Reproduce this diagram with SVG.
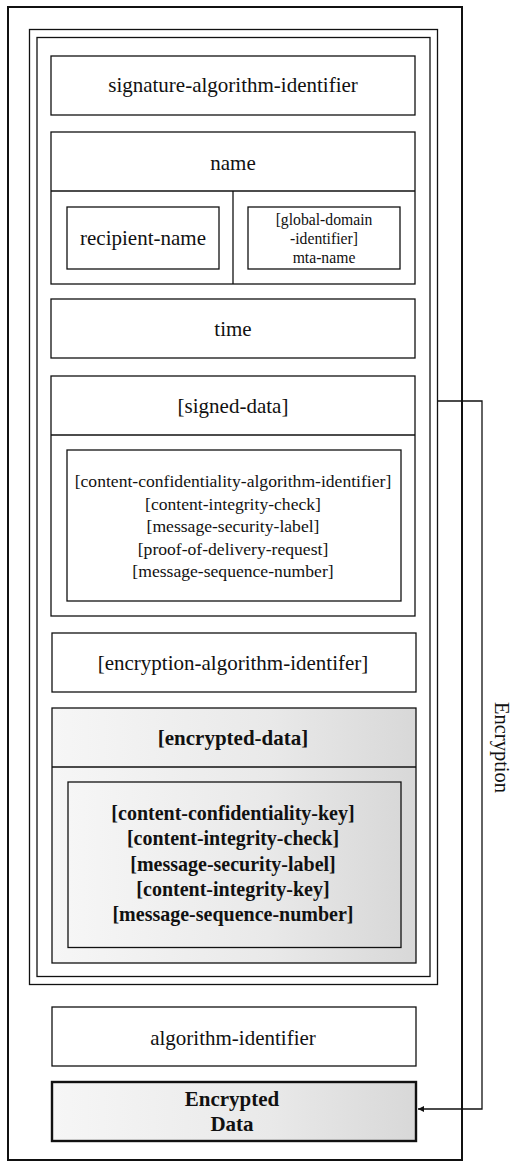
<svg xmlns="http://www.w3.org/2000/svg" width="513" height="1162" viewBox="0 0 513 1162">
<style>
.b{fill:#fff;stroke:#111;stroke-width:1.3}
.s{fill:url(#shade);stroke:#111;stroke-width:1.3}
.l{fill:none;stroke:#111;stroke-width:1.3}
text{font-family:"Liberation Serif","Times New Roman",serif;fill:#111;text-anchor:middle}
.t21{font-size:21px}
.t17{font-size:17.6px}
.t16{font-size:15.7px}
.bd{font-weight:bold}
.bd20{font-size:20px;font-weight:bold}
.rot{font-size:20.5px}
</style>
<defs>
<linearGradient id="shade" x1="0" y1="0" x2="1" y2="0">
<stop offset="0" stop-color="#f6f6f6"/>
<stop offset="0.6" stop-color="#e9e9e9"/>
<stop offset="1" stop-color="#d8d8d8"/>
</linearGradient>
<marker id="arr" viewBox="0 0 10 10" refX="10" refY="5" markerWidth="8" markerHeight="6" orient="auto" markerUnits="userSpaceOnUse">
<path d="M0,0 L10,5 L0,10 z" fill="#111"/>
</marker>
</defs>
<rect width="513" height="1162" fill="#fff"/>
<g id="outer">
<rect x="8" y="7" width="454" height="1153" fill="none" stroke="#111" stroke-width="2"/>
</g>
<g id="frame">
<rect x="29.5" y="29.5" width="408" height="955" class="l"/>
<rect x="37" y="37.5" width="393" height="939" class="l"/>
</g>
<g id="signature">
<rect x="51" y="56" width="364" height="59" class="b"/>
<text x="233" y="92" class="t21">signature-algorithm-identifier</text>
</g>
<g id="name">
<rect x="51" y="132" width="364" height="152" class="b"/>
<line x1="51" y1="191" x2="415" y2="191" class="l"/>
<line x1="233" y1="191" x2="233" y2="284" class="l"/>
<text x="233" y="170" class="t21">name</text>
</g>
<g id="recipient-name">
<rect x="67" y="207" width="152" height="62" class="b"/>
<text x="143" y="245" class="t21">recipient-name</text>
</g>
<g id="mta-name">
<rect x="248" y="207" width="152" height="62" class="b"/>
<text x="324" y="225" class="t16">[global-domain</text>
<text x="324" y="244" class="t16">-identifier]</text>
<text x="324" y="263" class="t16">mta-name</text>
</g>
<g id="time">
<rect x="51" y="299" width="364" height="59" class="b"/>
<text x="233" y="336" class="t21">time</text>
</g>
<g id="signed-data">
<rect x="51" y="376" width="364" height="240" class="b"/>
<line x1="51" y1="435" x2="415" y2="435" class="l"/>
<text x="233" y="413" class="t21">[signed-data]</text>
<rect x="67" y="450" width="334" height="151" class="b"/>
<text x="233" y="487" class="t17">[content-confidentiality-algorithm-identifier]</text>
<text x="233" y="509.5" class="t17">[content-integrity-check]</text>
<text x="233" y="532" class="t17">[message-security-label]</text>
<text x="233" y="554.5" class="t17">[proof-of-delivery-request]</text>
<text x="233" y="577" class="t17">[message-sequence-number]</text>
</g>
<g id="encryption-algorithm">
<rect x="52" y="633" width="364" height="59" class="b"/>
<text x="233" y="670" class="t21">[encryption-algorithm-identifer]</text>
</g>
<g id="encrypted-data">
<rect x="52" y="708" width="364" height="255" class="s"/>
<line x1="52" y1="767" x2="416" y2="767" class="l"/>
<text x="233" y="745" class="t21 bd">[encrypted-data]</text>
<rect x="68" y="782" width="333" height="165.5" class="s"/>
<text x="233" y="820" class="bd20">[content-confidentiality-key]</text>
<text x="233" y="845" class="bd20">[content-integrity-check]</text>
<text x="233" y="870.5" class="bd20">[message-security-label]</text>
<text x="233" y="895.5" class="bd20">[content-integrity-key]</text>
<text x="233" y="920.5" class="bd20">[message-sequence-number]</text>
</g>
<g id="algorithm-identifier">
<rect x="52" y="1007" width="364" height="59" class="b"/>
<text x="233" y="1045" class="t21">algorithm-identifier</text>
</g>
<g id="encrypted-result">
<rect x="52" y="1082" width="364" height="59" fill="url(#shade)" stroke="#111" stroke-width="2.4"/>
<text x="232" y="1106" class="t21 bd">Encrypted</text>
<text x="232" y="1131" class="t21 bd">Data</text>
</g>
<g id="connectors">
<polyline points="438,401 482,401 482,1109 418,1109" class="l" marker-end="url(#arr)"/>
<text x="0" y="0" class="rot" transform="translate(494.5,747.5) rotate(90)">Encryption</text>
</g>
</svg>
